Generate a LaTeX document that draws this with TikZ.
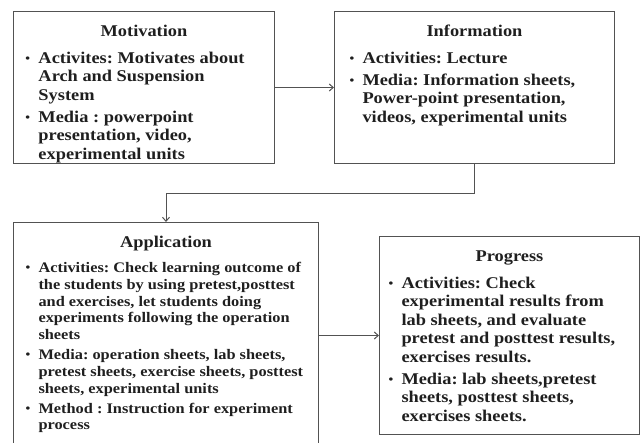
\documentclass[tikz,border=0pt]{standalone}
\usepackage{fontspec}
\setmainfont[FakeStretch=1.12]{Liberation Serif}
\usepackage{tikz}
\usetikzlibrary{arrows.meta, positioning}

\definecolor{edgegray}{gray}{0.32}
\definecolor{inkgray}{gray}{0.12}

% text inside a panel: height, width, body
\newcommand{\paneltext}[3]{\parbox[c][#1][t]{#2}{\raggedright\frenchspacing #3}}
\newcommand{\ptitle}[1]{{\centering\fontsize{16.4}{18.5}\selectfont\rule{0pt}{25.5pt}#1\par}\vspace{4.5pt}}
\newcommand{\pitem}{\par\vspace{3.5pt}\hangindent=13pt\hangafter=1\noindent
  \makebox[13pt][l]{\raisebox{1pt}{\fontsize{12}{12}\selectfont\textbullet}}}

\begin{document}
\begin{tikzpicture}[
    x=1pt, y=1pt,
    panel/.style={rectangle, draw=edgegray, line width=1pt, inner ysep=0pt, inner xsep=#1,
                  text=inkgray, font=\fontsize{16.4}{18.5}\selectfont\bfseries},
    panel/.default=12pt,
    arrow/.style={draw=edgegray, line width=1pt, -{Straight Barb[length=4pt, width=7pt]}}
]
\useasboundingbox (0,0) rectangle (643,-443);

% ---------- nodes ----------
% top row
\node (motiv) [panel, anchor=north west] at (13,-11) {\paneltext{152pt}{237pt}{%
  \ptitle{Motivation}
  \pitem Activites: Motivates about\newline Arch and Suspension\newline System
  \pitem Media : powerpoint\newline presentation, video,\newline experimental units}};
\node (info) [panel=15pt, right=59pt of motiv] {\paneltext{152pt}{250pt}{%
  \ptitle{Information}
  \pitem Activities: Lecture
  \pitem Media: Information sheets,\newline Power-point presentation,\newline videos, experimental units}};

% bottom row
\node (appl) [panel, anchor=north west] at (13,-222) {\paneltext{226pt}{281pt}{%
  \ptitle{Application}
  \fontsize{14.6}{16.7}\selectfont
  \pitem Activities: Check learning outcome of\newline the students by using pretest,posttest\newline and exercises, let students doing\newline experiments following the operation\newline sheets
  \pitem Media: operation sheets, lab sheets,\newline pretest sheets, exercise sheets, posttest\newline sheets, experimental units
  \pitem Method : Instruction for experiment\newline process}};
\node (prog) [panel=9pt, right=60pt of appl] {\paneltext{198pt}{242pt}{%
  \ptitle{Progress}
  \pitem Activities: Check\newline experimental results from\newline lab sheets, and evaluate\newline pretest and posttest results,\newline exercises results.
  \pitem Media: lab sheets,pretest\newline sheets, posttest sheets,\newline exercises sheets.}};

% ---------- arrows ----------
\draw [arrow] (motiv) -- (info);
\draw [arrow] (info.south) -- ++(0,-30) -| (appl.north);
\draw [arrow] (appl) -- (prog);

\end{tikzpicture}
\end{document}
